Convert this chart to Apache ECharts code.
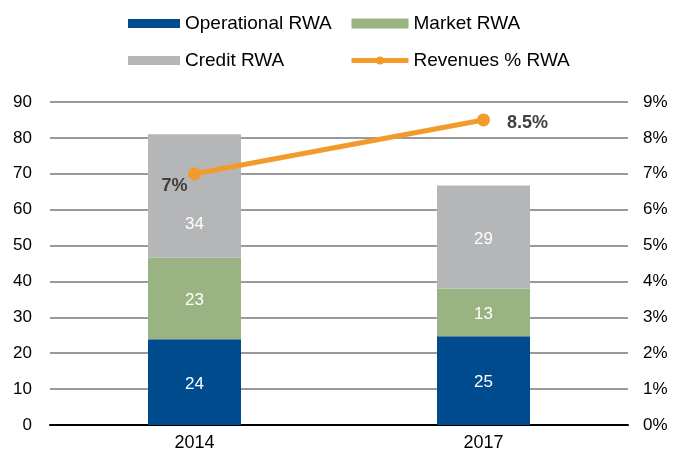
<!DOCTYPE html>
<html>
<head>
<meta charset="utf-8">
<script src="https://cdn.jsdelivr.net/npm/echarts@6/dist/echarts.min.js"></script>
<style>
  html, body { margin: 0; padding: 0; background: #fff; }
  #chart { width: 677px; height: 457px; }
</style>
</head>
<body>
<div id="chart"></div>
<script>
const years = ['2014', '2017'];
const operationalRwa = [23.9, 24.7];
const marketRwa = [22.8, 13.3];
const creditRwa = [34.3, 28.7];
const revenuesPct = [7, 8.5];
const revenueLabels = ['7%', '8.5%'];

const font = 'Liberation Sans, Arial, sans-serif';
const chart = echarts.init(document.getElementById('chart'));

function barLabel() {
  return {
    show: true,
    color: '#fff',
    fontFamily: font,
    fontSize: 17,
    formatter: p => Math.round(p.value),
    offset: [0, 2]
  };
}

const legendText = { fontFamily: font, fontSize: 19, color: '#000' };
const orange = '#F39A2D';

chart.setOption({
  animation: false,
  textStyle: { fontFamily: font },
  legend: [
    {
      orient: 'vertical', left: 123, top: 9, itemGap: 18,
      itemWidth: 52, itemHeight: 9, textStyle: legendText,
      data: [{ name: 'Operational RWA', icon: 'rect' }, { name: 'Credit RWA', icon: 'rect' }]
    },
    {
      orient: 'vertical', left: 344, top: 9, itemGap: 18,
      itemWidth: 57, itemHeight: 10, textStyle: legendText,
      data: [
        { name: 'Market RWA', icon: 'rect' },
        { name: 'Revenues % RWA', lineStyle: { width: 5, color: orange } }
      ]
    }
  ],
  grid: { left: 50, right: 49, top: 102, bottom: 32 },
  xAxis: {
    type: 'category',
    data: years,
    axisLine: { lineStyle: { color: '#000', width: 2 } },
    axisTick: { show: false },
    axisLabel: { color: '#000', fontSize: 18, fontFamily: font, margin: 9 }
  },
  yAxis: [
    {
      type: 'value', min: 0, max: 90, interval: 10,
      axisLine: { show: false }, axisTick: { show: false },
      splitLine: { lineStyle: { color: '#9a9a9a', width: 2 } },
      axisLabel: { color: '#000', fontSize: 17, fontFamily: font, margin: 18 }
    },
    {
      type: 'value', min: 0, max: 9, interval: 1,
      axisLine: { show: false }, axisTick: { show: false },
      splitLine: { show: false },
      axisLabel: { color: '#000', fontSize: 17, fontFamily: font, margin: 15, formatter: '{value}%' }
    }
  ],
  series: [
    {
      name: 'Operational RWA', type: 'bar', stack: 'rwa', barWidth: 93,
      itemStyle: { color: '#004B8D' }, label: barLabel(), data: operationalRwa
    },
    {
      name: 'Market RWA', type: 'bar', stack: 'rwa',
      itemStyle: { color: '#99B382' }, label: barLabel(), data: marketRwa
    },
    {
      name: 'Credit RWA', type: 'bar', stack: 'rwa',
      itemStyle: { color: '#B5B6B8' }, label: barLabel(),
      data: creditRwa.map((v, i) => i === 0 ? { value: v, label: { offset: [0, 28] } } : v)
    },
    {
      name: 'Revenues % RWA', type: 'line', yAxisIndex: 1,
      symbol: 'circle', symbolSize: 13,
      lineStyle: { color: orange, width: 5 },
      itemStyle: { color: orange },
      data: revenuesPct.map((v, i) => ({
        value: v,
        label: {
          show: true,
          formatter: revenueLabels[i],
          position: 'inside',
          offset: i === 0 ? [-20, 12] : [44, 3],
          color: '#404040', fontWeight: 'bold', fontSize: 18, fontFamily: font
        }
      }))
    }
  ]
});
</script>
</body>
</html>
